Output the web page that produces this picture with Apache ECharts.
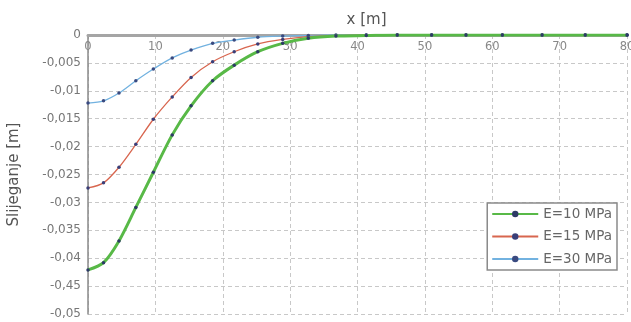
<!DOCTYPE html>
<html>
<head>
<meta charset="utf-8">
<script src="https://cdn.jsdelivr.net/npm/echarts@6/dist/echarts.min.js"></script>
<style>
  html, body { margin: 0; padding: 0; background: #fff; }
  #chart { width: 631px; height: 322px; }
</style>
</head>
<body>
<div id="chart"></div>
<script>
  // udaljenost x [m]
  var xValues = [0, 2.3, 4.6, 7.1, 9.7, 12.5, 15.3, 18.5, 21.7, 25.2, 28.9, 32.7, 36.8, 41.3, 45.9, 51, 56.1, 61.5, 67.4, 73.8, 80];
  // slijeganje [m]
  var e10 = [-0.0421, -0.0408, -0.0369, -0.0309, -0.0246, -0.0179, -0.0127, -0.0082, -0.0054, -0.0030, -0.0015, -0.0006, -0.0002, -0.0001, 0, 0, 0, 0, 0, 0, 0];
  var e15 = [-0.0274, -0.0265, -0.0237, -0.0196, -0.0151, -0.0111, -0.0076, -0.0048, -0.0030, -0.0016, -0.0008, -0.0003, -0.0001, 0, 0, 0, 0, 0, 0, 0, 0];
  var e30 = [-0.0122, -0.0118, -0.0104, -0.0082, -0.0061, -0.0041, -0.0027, -0.0015, -0.0009, -0.0004, -0.0002, -0.0001, 0, 0, 0, 0, 0, 0, 0, 0, 0];
  var seriesNames = ['E=10 MPa', 'E=15 MPa', 'E=30 MPa'];
  var yTickLabels = ['0', '-0,005', '-0,01', '-0,015', '-0,02', '-0,025', '-0,03', '-0,035', '-0,04', '-0,45', '-0,05'];

  function pairs(ys) {
    return xValues.map(function (x, i) { return [x, ys[i]]; });
  }

  var chart = echarts.init(document.getElementById('chart'));
  var font = '"DejaVu Sans", sans-serif';
  var dash = { color: '#c8c8c8', type: [4, 3], width: 1 };

  var option = {
    animation: false,
    textStyle: { fontFamily: font },
    grid: { left: 88, right: 4, top: 35, bottom: 8, outerBoundsMode: 'none' },
    legend: {
      data: seriesNames,
      orient: 'vertical',
      right: 14,
      top: 203,
      itemWidth: 46,
      itemHeight: 8,
      itemGap: 8.5,
      padding: [4, 5, 4, 4],
      borderColor: '#8a8a8a',
      borderWidth: 1.5,
      backgroundColor: '#fff',
      textStyle: { color: '#666', fontSize: 13.5, fontFamily: font }
    },
    xAxis: {
      type: 'value',
      position: 'top',
      min: 0,
      max: 80,
      interval: 10,
      name: 'x [m]',
      nameLocation: 'middle',
      nameGap: 7,
      nameTextStyle: { color: '#555', fontSize: 15, padding: [0, 0, 0, 18] },
      axisLine: { lineStyle: { color: '#a5a5a5', width: 3 } },
      axisTick: { show: false },
      axisLabel: { inside: true, margin: 6, color: '#888', fontSize: 11.5 },
      splitLine: { show: true, lineStyle: dash }
    },
    yAxis: {
      type: 'value',
      min: -0.05,
      max: 0,
      interval: 0.005,
      name: 'Slijeganje [m]',
      nameLocation: 'middle',
      nameGap: 66,
      nameTextStyle: { color: '#555', fontSize: 15 },
      axisLine: { show: true, onZero: false, lineStyle: { color: '#8a8a8a', width: 1.5 } },
      axisTick: { show: false },
      axisLabel: {
        color: '#777',
        fontSize: 12,
        margin: 7,
        formatter: function (v) { return yTickLabels[Math.round(-v / 0.005)]; }
      },
      splitLine: { show: true, lineStyle: dash }
    },
    series: [
      {
        name: seriesNames[0],
        type: 'line',
        smooth: 0.3,
        z: 5,
        data: pairs(e10),
        symbol: 'circle',
        symbolSize: 3.5,
        itemStyle: { color: '#2d3a66' },
        lineStyle: { color: '#58b947', width: 3 }
      },
      {
        name: seriesNames[1],
        type: 'line',
        smooth: 0.3,
        z: 4,
        data: pairs(e15),
        symbol: 'circle',
        symbolSize: 3.5,
        itemStyle: { color: '#3a3f78' },
        lineStyle: { color: '#d8664f', width: 1.3 }
      },
      {
        name: seriesNames[2],
        type: 'line',
        smooth: 0.3,
        z: 3,
        data: pairs(e30),
        symbol: 'circle',
        symbolSize: 3.5,
        itemStyle: { color: '#3a4a80' },
        lineStyle: { color: '#72b2e0', width: 1.3 }
      }
    ]
  };

  chart.setOption(option);
</script>
</body>
</html>
